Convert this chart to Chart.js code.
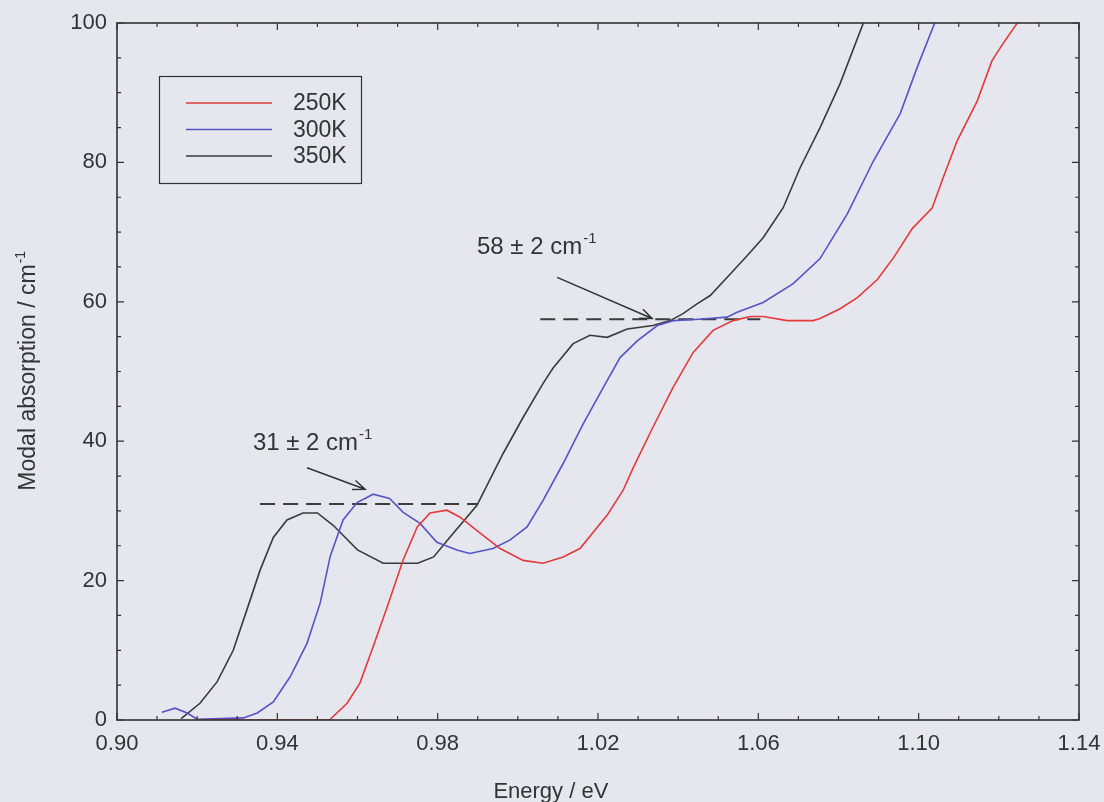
<!DOCTYPE html>
<html>
<head>
<meta charset="utf-8">
<script src="https://cdn.jsdelivr.net/npm/chart.js@4.4.1/dist/chart.umd.min.js"></script>
<style>
  html, body { margin: 0; padding: 0; background: #e6e6ef; }
  #wrap { width: 1104px; height: 802px; }
</style>
</head>
<body>
<div id="wrap"><canvas id="chart" width="1104" height="802"></canvas></div>
<script>
// 250K
const energy250 = [0.920, 0.935, 0.953, 0.9574, 0.9606, 0.9639, 0.9674, 0.9714, 0.9749, 0.9781, 0.9823, 0.9856, 0.9906, 0.9956,
  1.0013, 1.0063, 1.0113, 1.0155, 1.0223, 1.0263, 1.0288, 1.0337, 1.0387, 1.0437, 1.0487, 1.0537, 1.058, 1.0612, 1.0672,
  1.0737, 1.0754, 1.0804, 1.0847, 1.0897, 1.0937, 1.0984, 1.1034, 1.1061, 1.1096, 1.1146, 1.1183, 1.121, 1.1246];
const absorb250 = [0, 0, 0, 2.4, 5.3, 10.5, 16.2, 23.0, 27.7, 29.7, 30.1, 29.1, 26.8, 24.6,
  22.9, 22.5, 23.4, 24.6, 29.4, 33.0, 36.2, 42.0, 47.7, 52.7, 55.9, 57.3, 57.9, 57.9, 57.3,
  57.3, 57.6, 59.0, 60.6, 63.2, 66.3, 70.5, 73.5, 77.8, 83.1, 88.8, 94.6, 97.0, 100];

// 300K
const energy300 = [0.9112, 0.9145, 0.9175, 0.920, 0.9315, 0.935, 0.939, 0.9432, 0.9474, 0.9507, 0.9532, 0.9564, 0.9599,
  0.9639, 0.968, 0.9714, 0.9756, 0.9798, 0.9848, 0.988, 0.9938, 0.998, 1.0023, 1.0063, 1.0113, 1.0163, 1.0213, 1.0255,
  1.0298, 1.0348, 1.0388, 1.0452, 1.0522, 1.0547, 1.0612, 1.0687, 1.0754, 1.0822, 1.0887, 1.0954, 1.0996, 1.104];
const absorb300 = [1.1, 1.7, 1.0, 0.1, 0.3, 1.0, 2.6, 6.2, 11.0, 16.8, 23.5, 28.7, 31.2,
  32.4, 31.8, 29.8, 28.2, 25.5, 24.4, 23.9, 24.6, 25.8, 27.7, 31.5, 36.8, 42.5, 47.7, 52.0,
  54.4, 56.6, 57.3, 57.5, 57.8, 58.5, 59.9, 62.6, 66.2, 72.6, 80.2, 87.0, 93.6, 100];

// 350K
const energy350 = [0.916, 0.9207, 0.925, 0.929, 0.9324, 0.9357, 0.939, 0.9424, 0.9464, 0.950, 0.954, 0.960, 0.9664,
  0.975, 0.979, 0.983, 0.9898, 0.9963, 1.0013, 1.0063, 1.0088, 1.0138, 1.018, 1.0223, 1.0273, 1.0337, 1.038, 1.0412,
  1.0447, 1.048, 1.053, 1.0572, 1.0612, 1.0662, 1.0704, 1.0754, 1.0804, 1.0862];
const absorb350 = [0.2, 2.4, 5.5, 10.0, 15.8, 21.5, 26.2, 28.7, 29.7, 29.7, 27.9, 24.4, 22.5,
  22.5, 23.4, 26.2, 30.8, 38.2, 43.4, 48.3, 50.5, 54.0, 55.2, 54.9, 56.1, 56.6, 57.3, 58.3,
  59.7, 60.9, 64.0, 66.6, 69.2, 73.5, 79.2, 85.0, 91.3, 100];

const seriesLabels = ['250K', '300K', '350K'];
const seriesColors = ['#e23a3a', '#5454c6', '#3a3a3a'];

const xTickValues = [0.90, 0.94, 0.98, 1.02, 1.06, 1.10, 1.14];
const xTickLabels = ['0.90', '0.94', '0.98', '1.02', '1.06', '1.10', '1.14'];
const yTickValues = [0, 20, 40, 60, 80, 100];
const yTickLabels = ['0', '20', '40', '60', '80', '100'];

// plateau guides and notes
const guideLevels = [31, 57.5];
const guideStart = [0.9357, 1.0056];
const guideEnd = [0.99, 1.0605];
const noteText = ['31 \u00b1 2 cm', '58 \u00b1 2 cm'];
const noteAt = [[0.9339, 38.7], [0.9898, 66.9]];
const arrowFrom = [[0.9474, 36.2], [1.0098, 63.5]];
const arrowTo = [[0.9619, 33.1], [1.0335, 57.6]];

const FONT = 'Liberation Sans, Arial, sans-serif';
const INK = '#333';

function pts(xs, ys) {
  return xs.map((x, i) => ({ x: x, y: ys[i] }));
}

const datasets = [
  { label: seriesLabels[0], data: pts(energy250, absorb250), borderColor: seriesColors[0] },
  { label: seriesLabels[1], data: pts(energy300, absorb300), borderColor: seriesColors[1] },
  { label: seriesLabels[2], data: pts(energy350, absorb350), borderColor: seriesColors[2] }
].map(d => Object.assign(d, { borderWidth: 1.6, pointRadius: 0, tension: 0, fill: false }));

guideLevels.forEach((lv, i) => {
  datasets.push({
    label: 'guide' + i,
    data: [{ x: guideStart[i], y: lv }, { x: guideEnd[i], y: lv }],
    borderColor: '#3c3c3c', borderWidth: 2, borderDash: [15, 8],
    pointRadius: 0, fill: false
  });
});

// text with a small raised "-1"
function supText(ctx, text, x, y, size) {
  ctx.font = size + 'px ' + FONT;
  ctx.fillText(text, x, y);
  const w = ctx.measureText(text).width;
  ctx.font = Math.round(size * 0.62) + 'px ' + FONT;
  ctx.fillText('-1', x + w + 1, y - size * 0.45);
}

const framePlugin = {
  id: 'frame',
  afterDraw(chart) {
    const { ctx, chartArea: a, scales: { x, y } } = chart;
    ctx.save();
    ctx.strokeStyle = INK;
    ctx.fillStyle = INK;

    // box
    ctx.lineWidth = 1.6;
    ctx.strokeRect(a.left, a.top, a.width, a.height);

    // inward ticks on all sides
    ctx.lineWidth = 1.2;
    ctx.beginPath();
    for (let i = 0; i <= 24; i++) {
      const px = x.getPixelForValue(0.90 + i * 0.01);
      const len = i % 4 === 0 ? 7 : 4;
      ctx.moveTo(px, a.bottom); ctx.lineTo(px, a.bottom - len);
      ctx.moveTo(px, a.top); ctx.lineTo(px, a.top + len);
    }
    for (let i = 0; i <= 20; i++) {
      const py = y.getPixelForValue(i * 5);
      const len = i % 4 === 0 ? 7 : 4;
      ctx.moveTo(a.left, py); ctx.lineTo(a.left + len, py);
      ctx.moveTo(a.right, py); ctx.lineTo(a.right - len, py);
    }
    ctx.stroke();

    // arrows
    ctx.lineWidth = 1.5;
    arrowFrom.forEach((f, i) => {
      const x0 = x.getPixelForValue(f[0]), y0 = y.getPixelForValue(f[1]);
      const x1 = x.getPixelForValue(arrowTo[i][0]), y1 = y.getPixelForValue(arrowTo[i][1]);
      const ang = Math.atan2(y1 - y0, x1 - x0);
      ctx.beginPath();
      ctx.moveTo(x0, y0); ctx.lineTo(x1, y1);
      ctx.moveTo(x1 - 13 * Math.cos(ang - 0.38), y1 - 13 * Math.sin(ang - 0.38));
      ctx.lineTo(x1, y1);
      ctx.lineTo(x1 - 13 * Math.cos(ang + 0.38), y1 - 13 * Math.sin(ang + 0.38));
      ctx.stroke();
    });

    // notes
    ctx.textAlign = 'left';
    ctx.textBaseline = 'alphabetic';
    noteText.forEach((t, i) => {
      supText(ctx, t, x.getPixelForValue(noteAt[i][0]), y.getPixelForValue(noteAt[i][1]), 24);
    });

    // legend
    const lx = a.left + 42, ly = a.top + 53;
    ctx.lineWidth = 1.2;
    ctx.strokeRect(lx + 0.5, ly + 0.5, 202, 107);
    ctx.font = '23px ' + FONT;
    ctx.textBaseline = 'middle';
    chart.data.datasets.slice(0, 3).forEach((d, i) => {
      const ry = ly + 27 + i * 26.5;
      ctx.strokeStyle = d.borderColor;
      ctx.lineWidth = 1.6;
      ctx.beginPath();
      ctx.moveTo(lx + 27, ry); ctx.lineTo(lx + 113, ry);
      ctx.stroke();
      ctx.fillText(d.label, lx + 134, ry + 1);
    });

    // axis titles
    ctx.textBaseline = 'alphabetic';
    ctx.font = '22px ' + FONT;
    ctx.textAlign = 'center';
    ctx.fillText('Energy / eV', a.left + a.width * 0.451, 798);

    ctx.save();
    ctx.translate(35, (a.top + a.bottom) / 2);
    ctx.rotate(-Math.PI / 2);
    ctx.textAlign = 'left';
    ctx.font = '23px ' + FONT;
    const main = 'Modal absorption / cm';
    const w = ctx.measureText(main).width + 12;
    supText(ctx, main, -w / 2, 0, 23);
    ctx.restore();

    ctx.restore();
  }
};

new Chart(document.getElementById('chart'), {
  type: 'line',
  data: { datasets: datasets },
  options: {
    responsive: false,
    animation: false,
    layout: { padding: { left: 0, right: 25, top: 23, bottom: 0 } },
    plugins: { legend: { display: false }, tooltip: { enabled: false } },
    scales: {
      x: {
        type: 'linear', min: 0.90, max: 1.14,
        afterFit(s) { s.height = 82; s.paddingLeft = 0; s.paddingRight = 0; },
        afterBuildTicks(s) { s.ticks = xTickValues.map(v => ({ value: v })); },
        grid: { display: false, drawTicks: false },
        border: { display: false },
        ticks: {
          callback: (v, i) => xTickLabels[i],
          color: INK, padding: 11, maxRotation: 0, autoSkip: false,
          font: { family: FONT, size: 22 }
        }
      },
      y: {
        type: 'linear', min: 0, max: 100,
        afterFit(s) { s.width = 117; s.paddingTop = 0; s.paddingBottom = 0; },
        afterBuildTicks(s) { s.ticks = yTickValues.map(v => ({ value: v })); },
        grid: { display: false, drawTicks: false },
        border: { display: false },
        ticks: {
          callback: (v, i) => yTickLabels[i],
          color: INK, padding: 10, autoSkip: false,
          font: { family: FONT, size: 22 }
        }
      }
    }
  },
  plugins: [framePlugin]
});
</script>
</body>
</html>
